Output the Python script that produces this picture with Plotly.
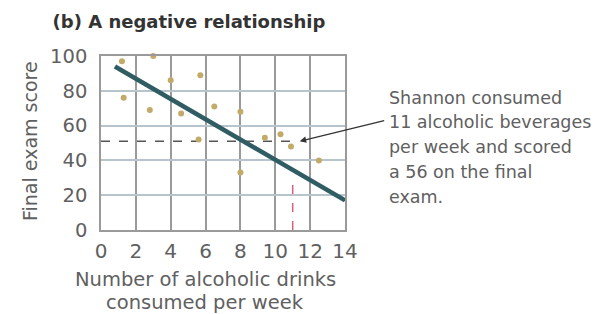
import plotly.graph_objects as go

# ---- data ----
drinks = [1.2, 3.0, 4.0, 5.7, 1.3, 2.8, 4.6, 6.5, 8.0, 5.6, 8.0, 9.4, 10.3, 10.9, 12.5]
scores = [97, 100, 86, 89, 76, 69, 67, 71, 68, 52, 33, 53, 55, 48, 40]
fit_x = [0.8, 14.0]
fit_y = [94, 17]
guide_h_x = [0, 11]
guide_h_y = [51, 51]
guide_v_x = [11, 11]
guide_v_y = [0, 29]
arrow_point = (11.4, 51)
x_ticks = [0, 2, 4, 6, 8, 10, 12, 14]
y_ticks = [0, 20, 40, 60, 80, 100]
title = "(b) A negative relationship"
x_title_lines = ["Number of alcoholic drinks", "consumed per week"]
y_title = "Final exam score"
note_lines = ["Shannon consumed", "11 alcoholic beverages", "per week and scored",
              "a 56 on the final", "exam."]

W, H = 605, 314
L, R, T, B = 101, 345, 56, 230
FONT = "DejaVu Sans"
TXT = "#606060"

def px(xp):
    return (xp - L) / (R - L)

def py(yp):
    return (B - yp) / (B - T)

fig = go.Figure()

fig.add_trace(go.Scatter(x=guide_h_x, y=guide_h_y, mode="lines",
                         line=dict(color="#555555", width=1.5, dash="dash"),
                         hoverinfo="skip", showlegend=False))
fig.add_trace(go.Scatter(x=guide_v_x, y=guide_v_y, mode="lines",
                         line=dict(color="#d9607a", width=1.5, dash="dash"),
                         hoverinfo="skip", showlegend=False))
fig.add_trace(go.Scatter(x=drinks, y=scores, mode="markers",
                         marker=dict(color="#c2aa68", size=6),
                         cliponaxis=False, showlegend=False))
fig.add_trace(go.Scatter(x=fit_x, y=fit_y, mode="lines",
                         line=dict(color="#2f5d63", width=4.5),
                         cliponaxis=False, showlegend=False))

annotations = []
annotations.append(dict(x=arrow_point[0], y=arrow_point[1], xref="x", yref="y",
                        ax=86, ay=-21, axref="pixel", ayref="pixel",
                        text="", showarrow=True, arrowhead=2, arrowsize=1,
                        arrowwidth=1.3, arrowcolor="#333333"))
note_y = [98, 122, 147, 172, 197]
for line, yy in zip(note_lines, note_y):
    annotations.append(dict(x=px(387), y=py(yy), xref="paper", yref="paper",
                            xanchor="left", yanchor="middle", showarrow=False,
                            text=line, font=dict(family=FONT, size=17.5, color=TXT)))
for line, yy in zip(x_title_lines, [279, 302]):
    annotations.append(dict(x=px(205), y=py(yy), xref="paper", yref="paper",
                            xanchor="center", yanchor="middle", showarrow=False,
                            text=line, font=dict(family=FONT, size=19.5, color=TXT)))
annotations.append(dict(x=px(30), y=py(141), xref="paper", yref="paper",
                        xanchor="center", yanchor="middle", showarrow=False,
                        textangle=-90, text=y_title,
                        font=dict(family=FONT, size=19, color=TXT)))

fig.update_layout(
    width=W, height=H,
    margin=dict(l=L, r=W - R, t=T, b=H - B),
    paper_bgcolor="white", plot_bgcolor="white",
    title=dict(text="<b>" + title + "</b>", x=189 / W, y=1 - 22 / H,
               xanchor="center", yanchor="middle",
               font=dict(family=FONT, size=18, color="#333333")),
    annotations=annotations,
    showlegend=False,
)
fig.update_xaxes(range=[0, 14], tickvals=x_ticks, ticktext=[str(v) for v in x_ticks],
                 showgrid=True, gridcolor="#9a9a9a", gridwidth=1.5,
                 showline=True, linecolor="#9a9a9a", linewidth=1.5, mirror=True,
                 zeroline=False, ticks="outside", ticklen=2, tickcolor="rgba(0,0,0,0)",
                 tickfont=dict(family=FONT, size=20, color=TXT))
fig.update_yaxes(range=[0, 100], tickvals=y_ticks, ticktext=[str(v) for v in y_ticks],
                 showgrid=True, gridcolor="#b7c4cc", gridwidth=2,
                 showline=True, linecolor="#9a9a9a", linewidth=1.5, mirror=True,
                 zeroline=False, ticks="outside", ticklen=8, tickcolor="rgba(0,0,0,0)",
                 tickfont=dict(family=FONT, size=19.5, color=TXT))

fig.write_html("out.html", config={"displayModeBar": False},
               post_script="document.body.style.margin='0';")
